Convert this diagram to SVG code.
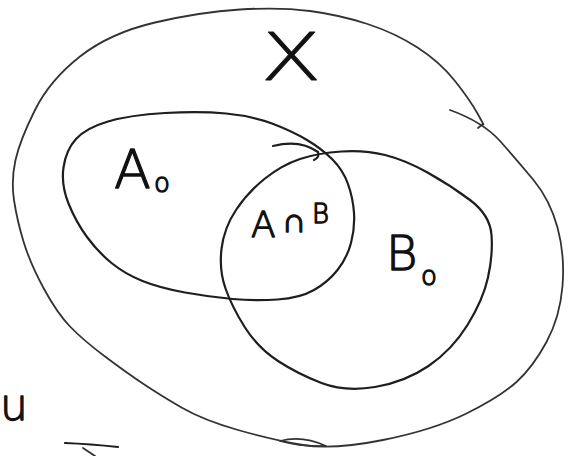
<svg xmlns="http://www.w3.org/2000/svg" width="581" height="456" viewBox="0 0 581 456">
<style>
.ln{fill:none;stroke:#1e1e1e;stroke-width:2.2;stroke-linecap:round;stroke-linejoin:round}
.thin{fill:none;stroke:#333;stroke-width:1.8;stroke-linecap:round;stroke-linejoin:round}
.lbl{font-family:"DejaVu Sans","Liberation Sans",sans-serif;font-weight:200;fill:#111;stroke:#111;stroke-width:1.3;stroke-linejoin:round}
</style>
<rect width="581" height="456" fill="#fff"/>
<g id="set-X">
<path class="thin" d="M450,110 Q483,122 500,141 Q517,160 533.5,180 Q550,200 557.5,227.5 Q565,255 562.5,286 Q560,317 546.5,342 Q533,367 516.5,382 Q500,397 466.5,413.5 Q433,430 383,440 Q333,450 303,445 Q273,440 238,430 Q203,420 181.5,407.5 Q160,395 143.5,384 Q127,373 105,356.5 Q83,340 70,326.5 Q57,313 43.5,288 Q30,263 23.5,241.5 Q17,220 14,200 Q11,180 15.5,160 Q20,140 35,110 Q50,80 80,56.5 Q110,33 155,22.5 Q200,12 240,9.5 Q280,7 310,11 Q340,15 367.5,24 Q395,33 417.5,47.5 Q440,62 455,81 Q470,100 477.5,113.5 Q485,127 483,124 L478,128"/>
<path class="thin" d="M280,441 Q302,435 326,446 Q302,447 280,441"/>
<text class="lbl" transform="translate(291,80) scale(1.35,1)" text-anchor="middle" font-size="66" style="stroke-width:0.8">X</text>
</g>
<g id="set-A">
<path class="ln" d="M165,113 Q200,111 226,113.5 Q252,116 272,123.5 Q292,131 307,140 Q322,149 332.5,159.5 Q343,170 348,184 Q353,198 354,213 Q355,228 351,243 Q347,258 337.5,270 Q328,282 314,290 Q300,298 277.5,299.5 Q255,301 232.5,299 Q210,297 185,292.5 Q160,288 142.5,281 Q125,274 111.5,263 Q98,252 87,237 Q76,222 68.5,203.5 Q61,185 63.5,167.5 Q66,150 76,139 Q86,128 108,121.5 Q130,115 165,113 Z"/>
<path class="ln" d="M273,146 Q300,139 318,152 Q320,157 314,160"/>
<text class="lbl" x="114" y="188" font-size="54">A</text>
<text class="lbl" x="154" y="192" font-size="26">o</text>
</g>
<g id="set-B">
<path class="ln" d="M300,159 Q318,153 341.5,151.5 Q365,150 385,155 Q405,160 427.5,172.5 Q450,185 470,200 Q490,215 491.5,235 Q493,255 488,277.5 Q483,300 467.5,325 Q452,350 428.5,366 Q405,382 375,387 Q345,392 321.5,383 Q298,374 278,361 Q258,348 245,327.5 Q232,307 225.5,288.5 Q219,270 221.5,249 Q224,228 236,210 Q248,192 265,178.5 Q282,165 300,159 Z"/>
<text class="lbl" x="386" y="270" font-size="48">B</text>
<text class="lbl" x="421" y="285" font-size="26">o</text>
</g>
<g id="intersection">
<text class="lbl" x="251" y="237" font-size="36">A</text>
<text class="lbl" x="282" y="232" font-size="34">∩</text>
<text class="lbl" x="312" y="223" font-size="26">B</text>
</g>
<g id="marks">
<text class="lbl" x="0" y="420" font-size="44">u</text>
<path class="ln" d="M65,443 Q90,444 118,447"/>
<path class="thin" d="M83,448 L95,456"/>
</g>
<g id="connectors"/>
</svg>
